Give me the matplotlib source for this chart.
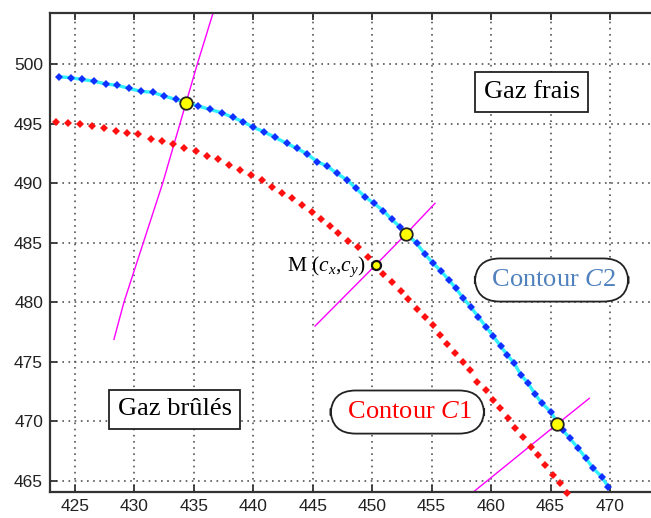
import matplotlib
matplotlib.use("Agg")
import matplotlib.pyplot as plt

plt.rcParams["mathtext.fontset"] = "custom"
plt.rcParams["mathtext.rm"] = "Liberation Serif"
plt.rcParams["mathtext.it"] = "Liberation Serif:italic"

# -----data-----

# contour C2: sampled points (blue) on the cyan contour
c2_x = [423.68, 424.64, 425.56, 426.62, 427.61, 428.56, 429.54, 430.53, 431.53, 432.51,
        433.47, 434.38, 435.37, 436.35, 437.34, 438.26, 439.15, 440.00, 440.90, 441.82,
        442.80, 443.65, 444.54, 445.38, 446.22, 447.01, 447.90, 448.63, 449.39, 450.15,
        450.93, 451.64, 452.33, 453.01, 453.74, 454.44, 455.08, 455.76, 456.45, 457.04,
        457.66, 458.28, 458.92, 459.57, 460.18, 460.80, 461.36, 461.95, 462.51, 463.12,
        463.69, 464.25, 465.01, 465.51, 466.02, 466.63, 467.33, 467.98, 468.59, 469.30,
        469.85]
c2_y = [498.93, 498.85, 498.71, 498.55, 498.32, 498.21, 497.96, 497.71, 497.62, 497.31,
        497.03, 496.75, 496.47, 496.19, 495.91, 495.52, 495.15, 494.68, 494.31, 493.84,
        493.34, 492.92, 492.44, 491.79, 491.43, 490.82, 490.26, 489.56, 488.85, 488.30,
        487.68, 486.95, 486.33, 485.64, 484.94, 484.04, 483.31, 482.64, 481.86, 481.16,
        480.32, 479.61, 478.77, 477.93, 477.15, 476.31, 475.56, 474.86, 473.88, 473.18,
        472.28, 471.55, 470.79, 470.01, 469.26, 468.56, 467.72, 466.88, 466.04, 465.33,
        464.49]

# contour C1: red points
c1_x = [423.40, 424.39, 425.42, 426.40, 427.44, 428.45, 429.40, 430.32, 431.37, 432.29,
        433.22, 434.19, 435.15, 436.08, 437.05, 437.98, 438.88, 439.78, 440.70, 441.54,
        442.38, 443.23, 444.07, 444.91, 445.66, 446.45, 447.14, 447.99, 448.83, 449.67,
        450.29, 450.93, 451.69, 452.39, 453.03, 453.74, 454.44, 455.08, 455.70, 456.31,
        456.96, 457.66, 458.22, 458.78, 459.57, 460.18, 460.74, 461.44, 462.01, 462.65,
        463.33, 463.91, 464.53, 465.18, 465.79, 466.40]
c1_y = [495.15, 495.07, 494.93, 494.79, 494.60, 494.40, 494.23, 494.09, 493.73, 493.53,
        493.28, 492.92, 492.69, 492.30, 491.99, 491.52, 491.10, 490.68, 490.26, 489.64,
        489.19, 488.72, 488.16, 487.59, 486.96, 486.39, 485.78, 485.16, 484.60, 483.81,
        483.12, 482.36, 481.66, 480.96, 480.26, 479.42, 478.72, 478.08, 477.24, 476.48,
        475.70, 474.99, 474.30, 473.31, 472.62, 471.78, 471.08, 470.24, 469.40, 468.69,
        467.85, 467.16, 466.32, 465.48, 464.78, 463.94]

# normals (magenta)
n1_x = [428.28, 429.12, 432.38, 435.29, 436.65]
n1_y = [476.88, 480.00, 490.00, 500.00, 504.40]
n2_x = [445.19, 450.29, 452.84, 455.28]
n2_y = [477.99, 483.12, 485.72, 488.30]
n3_x = [458.50, 465.56, 468.26]
n3_y = [464.05, 469.76, 471.92]

# intersections on C2 and point M on C1
hit_x = [434.31, 452.84, 465.56]
hit_y = [496.75, 485.72, 469.76]
m_x, m_y = 450.29, 483.12

xticks = [425, 430, 435, 440, 445, 450, 455, 460, 465, 470]
yticks = [465, 470, 475, 480, 485, 490, 495, 500]

# -----figure-----

fig = plt.figure(figsize=(6.51, 5.18), dpi=100)
ax = fig.add_axes([50 / 651, 25.7 / 518, 601 / 651, 479.6 / 518])

ax.plot(n1_x, n1_y, color="#ff00ff", lw=1.0, zorder=2)
ax.plot(n2_x, n2_y, color="#ff00ff", lw=1.0, zorder=2)
ax.plot(n3_x, n3_y, color="#ff00ff", lw=1.0, zorder=2)

ax.plot(c2_x, c2_y, color="#33f0ff", lw=2.4, zorder=3)
ax.plot(c2_x, c2_y, ls="none", marker="D", ms=3.8, color="#1030ff", mew=0, zorder=4)
ax.plot(c1_x, c1_y, ls="none", marker="D", ms=4.2, color="#ff1010", mew=0,
        zorder=4, clip_on=False)

ax.plot(hit_x, hit_y, ls="none", marker="o", ms=9, mfc="#ffff00", mec="#222222",
        mew=1.3, zorder=6)
ax.plot([m_x], [m_y], ls="none", marker="o", ms=6.5, mfc="#ffff00", mec="#111111",
        mew=1.6, zorder=6)

ax.set_xlim(422.9, 473.45)
ax.set_ylim(464.03, 504.31)
ax.set_xticks(xticks)
ax.set_yticks(yticks)
ax.tick_params(direction="in", length=5, width=1.2, top=True, right=False,
               labelsize=12.5, colors="#222222", pad=5)
for lab in ax.get_xticklabels() + ax.get_yticklabels():
    lab.set_family("Liberation Sans")
ax.grid(True, color="#555555", lw=1.2, ls=(0, (1, 2.7)))
for side in ["left", "bottom", "top"]:
    ax.spines[side].set_linewidth(1.6)
    ax.spines[side].set_color("#333333")
ax.spines["right"].set_visible(False)

serif = "Liberation Serif"
ax.text(463.41, 497.65, "Gaz frais", family=serif, fontsize=19, ha="center",
        va="center", zorder=7,
        bbox=dict(boxstyle="square,pad=0.33", fc="white", ec="#222222", lw=1.3))
ax.text(433.39, 471.0, "Gaz brûlés", family=serif, fontsize=19, ha="center",
        va="center", zorder=7,
        bbox=dict(boxstyle="square,pad=0.33", fc="white", ec="#222222", lw=1.3))
ax.text(465.09, 481.86, r" Contour $\mathit{C2}$ ", family=serif, fontsize=19,
        color="#4f81bd", ha="center", va="center", zorder=7,
        bbox=dict(boxstyle="round,pad=0.4,rounding_size=0.95", fc="white",
                  ec="#222222", lw=1.3))
ax.text(452.96, 470.77, r" Contour $\mathit{C1}$ ", family=serif, fontsize=19,
        color="#ff0000", ha="center", va="center", zorder=7,
        bbox=dict(boxstyle="round,pad=0.4,rounding_size=0.95", fc="white",
                  ec="#222222", lw=1.3))
ax.text(449.47, 482.64, r"M ($c_x$,$c_y$)", family=serif, fontsize=15.5,
        ha="right", va="baseline", zorder=7)

fig.savefig("out.png", dpi=100, facecolor="white")
